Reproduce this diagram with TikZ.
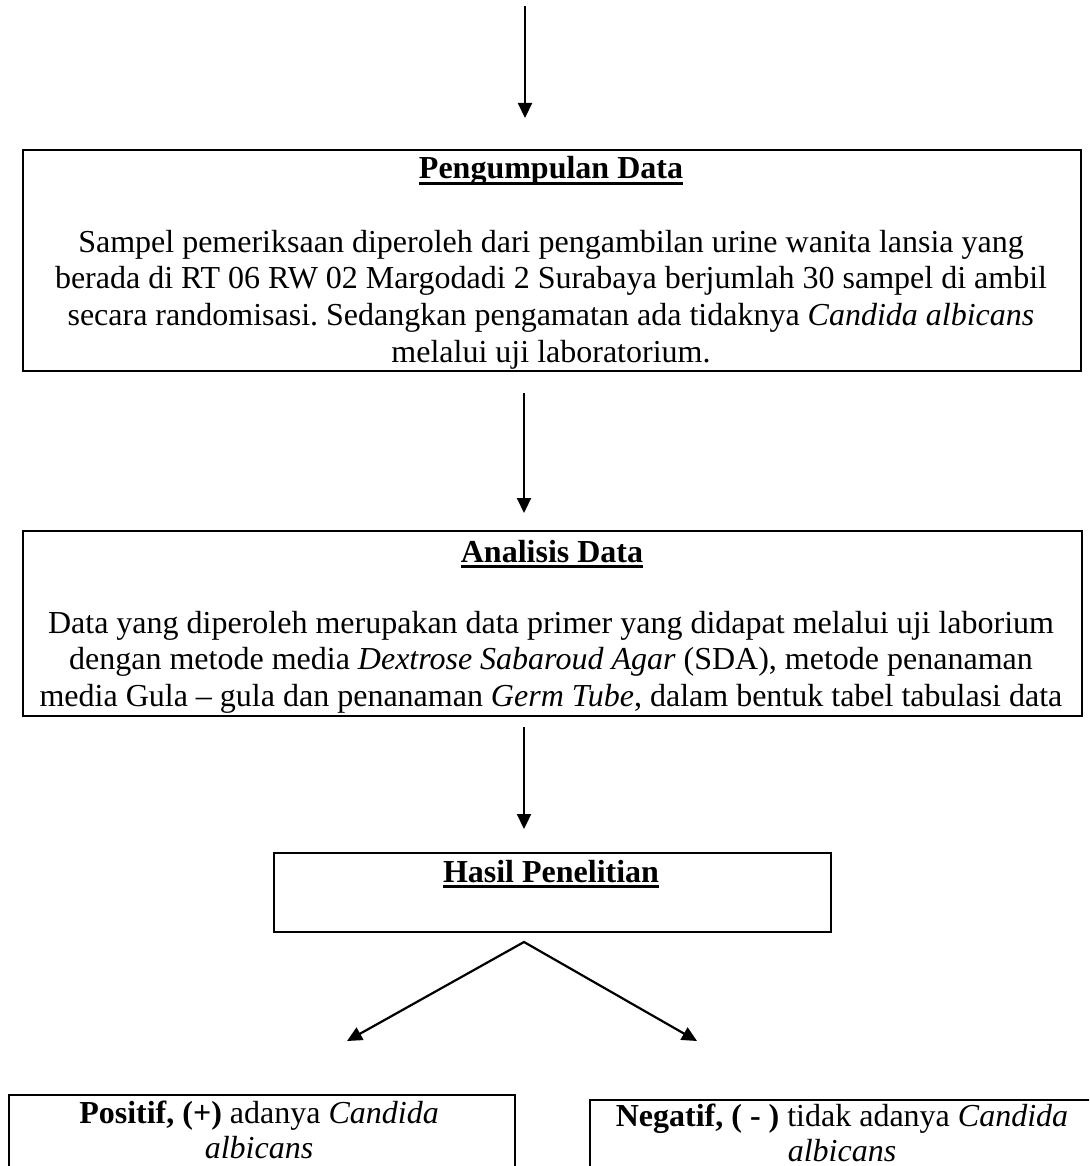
\documentclass[tikz,border=0pt]{standalone}
\usepackage{fontspec}
\setmainfont{Liberation Serif}
\usetikzlibrary{arrows.meta}
\frenchspacing
\newcommand\ulbold[1]{\setbox0\hbox{\bfseries #1}\rlap{\rule[-6pt]{\wd0}{3pt}}\box0}
\newcommand\clines[1]{\vtop{\halign{\hfil##\hfil\cr#1\crcr}}}
\begin{document}
\begin{tikzpicture}[x=1pt,y=-1pt,
  box/.style={draw,line width=2.3pt,rectangle,inner sep=0pt,anchor=north west},
  txt/.style={inner sep=0pt,anchor=base,font=\fontsize{32}{36.7}\selectfont},
  txtb/.style={inner sep=0pt,anchor=base,font=\fontsize{32}{35}\selectfont},
  arr/.style={line width=2.2pt,-{Triangle[length=15pt,width=14pt]}},
  arrs/.style={line width=2.2pt,line join=miter,{Triangle[length=15pt,width=14pt]}-{Triangle[length=15pt,width=14pt]}}]
\useasboundingbox (0,0) rectangle (1089,1166);
\clip (0,0) rectangle (1089,1166);
% boxes
\node[box,minimum width=1058pt,minimum height=221pt] (b1) at (22,149) {};
\node[box,minimum width=1059pt,minimum height=185pt] (b2) at (22,530) {};
\node[box,minimum width=557pt,minimum height=79pt] (b3) at (273,852) {};
\node[box,minimum width=506pt,minimum height=140pt] (b4) at (8,1094) {};
\node[box,minimum width=506pt,minimum height=140pt] (b5) at (589,1099) {};
% titles
\node[txt] (t1) at (551,179) {\ulbold{Pengumpulan Data}};
\node[txt] (t2) at (552,562) {\ulbold{Analisis Data}};
\node[txt] (t3) at (551,882) {\ulbold{Hasil Penelitian}};
% body texts
\node[txt] (x1) at (551,252) {\clines{Sampel pemeriksaan diperoleh dari pengambilan urine wanita lansia yang\cr
berada di RT 06 RW 02 Margodadi 2 Surabaya berjumlah 30 sampel di ambil\cr
secara randomisasi. Sedangkan pengamatan ada tidaknya \textit{Candida albicans}\cr
melalui uji laboratorium.}};
\node[txt] (x2) at (551,633) {\clines{Data yang diperoleh merupakan data primer yang didapat melalui uji laborium\cr
dengan metode media \textit{Dextrose Sabaroud Agar} (SDA), metode penanaman\cr
media Gula – gula dan penanaman \textit{Germ Tube}, dalam bentuk tabel tabulasi data}};
\node[txtb] (x4) at (259,1123) {\clines{\textbf{Positif, (+)} adanya \textit{Candida}\cr \textit{albicans}}};
\node[txtb] (x5) at (842,1126) {\clines{\textbf{Negatif, ( - )} tidak adanya \textit{Candida}\cr \textit{albicans}}};
% connectors
\coordinate (p0) at (525,6);
\coordinate (p1) at (525,118);
\coordinate (q0) at (524,393);
\coordinate (q1) at (524,513);
\coordinate (r0) at (524,727);
\coordinate (r1) at (524,829);
\coordinate (apex) at (524,942);
\coordinate (ltip) at (347,1041);
\coordinate (rtip) at (697,1041);
\draw[arr] (p0) -- (p1);
\draw[arr] (q0) -- (q1);
\draw[arr] (r0) -- (r1);
\draw[arrs] (ltip) -- (apex) -- (rtip);
\end{tikzpicture}
\end{document}
